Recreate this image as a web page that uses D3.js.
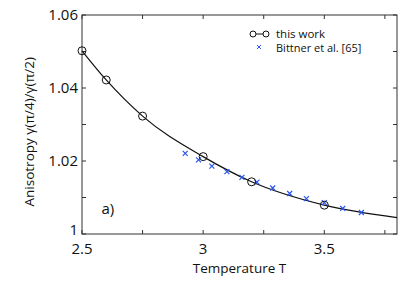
<!DOCTYPE html>
<html>
<head>
<meta charset="utf-8">
<script src="https://cdn.jsdelivr.net/npm/d3@7"></script>
<style>
  body { margin: 0; background: #fff; }
  svg text { font-family: "Open Sans", sans-serif; fill: #111; }
</style>
</head>
<body>
<svg id="chart"></svg>
<script>
// this work: temperature vs anisotropy (circles)
const workT = [2.5, 2.6, 2.75, 3.0, 3.2, 3.5];
const workA = [1.0502, 1.0422, 1.0323, 1.0212, 1.0143, 1.0079];

// smooth fit line through this work
const fitT = [2.5, 2.6, 2.75, 3.0, 3.2, 3.5, 3.8];
const fitA = [1.0502, 1.0422, 1.0323, 1.0212, 1.0143, 1.0079, 1.0045];

// Bittner et al. [65] (crosses)
const bittT = [2.926, 2.981, 3.036, 3.098, 3.160, 3.222, 3.287, 3.357, 3.426, 3.50, 3.576, 3.653];
const bittA = [1.0221, 1.0203, 1.0186, 1.0171, 1.0155, 1.0142, 1.0126, 1.0111, 1.0097, 1.0086, 1.0070, 1.0059];

const xTicks = [2.5, 3, 3.5];
const yTicks = [1, 1.02, 1.04, 1.06];

const W = 407, H = 286;
const margin = { top: 15, right: 10, bottom: 52, left: 82 };
const width = W - margin.left - margin.right;
const height = H - margin.top - margin.bottom;

const svg = d3.select("#chart").attr("width", W).attr("height", H);
const g = svg.append("g").attr("transform", `translate(${margin.left},${margin.top})`);

const x = d3.scaleLinear().domain([2.5, 3.8]).range([0, width]);
const y = d3.scaleLinear().domain([1, 1.06]).range([height, 0]);

// frame
g.append("rect").attr("width", width).attr("height", height)
  .attr("fill", "none").attr("stroke", "#333").attr("stroke-width", 1);

// ticks (inward) on all four sides
const xMinor = d3.range(2.5, 3.81, 0.25);
const yMinor = d3.range(1, 1.0601, 0.01);
xMinor.forEach(t => {
  g.append("line").attr("x1", x(t)).attr("x2", x(t)).attr("y1", height).attr("y2", height - 4).attr("stroke", "#333");
  g.append("line").attr("x1", x(t)).attr("x2", x(t)).attr("y1", 0).attr("y2", 4).attr("stroke", "#333");
});
yMinor.forEach(t => {
  g.append("line").attr("x1", 0).attr("x2", 4).attr("y1", y(t)).attr("y2", y(t)).attr("stroke", "#333");
  g.append("line").attr("x1", width).attr("x2", width - 4).attr("y1", y(t)).attr("y2", y(t)).attr("stroke", "#333");
});

// tick labels
g.selectAll(".xl").data(xTicks).enter().append("text")
  .attr("x", d => x(d)).attr("y", height + 20)
  .attr("text-anchor", "middle").attr("font-size", 15)
  .text(d => d3.format("")(d));
g.selectAll(".yl").data(yTicks).enter().append("text")
  .attr("x", -4).attr("y", d => y(d) + (d === 1 ? 1 : 5))
  .attr("text-anchor", "end").attr("font-size", 15)
  .text(d => d3.format("")(d));

// axis titles
svg.append("text").attr("x", margin.left + x(3.15)).attr("y", 273)
  .attr("text-anchor", "middle").attr("font-size", 13.5).text("Temperature T");
svg.append("text").attr("transform", `translate(34,${margin.top + y(1.028)}) rotate(-90)`)
  .attr("text-anchor", "middle").attr("font-size", 13.5).text("Anisotropy γ(π/4)/γ(π/2)");

// panel label
g.append("text").attr("x", x(2.58)).attr("y", y(1.0055)).attr("font-size", 15).text("a)");

// fit line
const fitData = fitT.map((t, i) => ({ t, a: fitA[i] }));
g.append("path").datum(fitData)
  .attr("fill", "none").attr("stroke", "#111").attr("stroke-width", 1.2)
  .attr("d", d3.line().x(d => x(d.t)).y(d => y(d.a)).curve(d3.curveMonotoneX));

// Bittner crosses
const crossSym = d3.symbol().type(d3.symbolX).size(18);
bittT.forEach((t, i) => {
  g.append("path").attr("d", crossSym)
    .attr("transform", `translate(${x(t)},${y(bittA[i])})`)
    .attr("fill", "none").attr("stroke", "#2a55f0").attr("stroke-width", 1.2);
});

// this work circles
workT.forEach((t, i) => {
  g.append("circle").attr("cx", x(t)).attr("cy", y(workA[i])).attr("r", 4)
    .attr("fill", "none").attr("stroke", "#111").attr("stroke-width", 1);
});

// legend
const lg = svg.append("g");
lg.append("line").attr("x1", 253).attr("x2", 266).attr("y1", 34).attr("y2", 34).attr("stroke", "#111");
lg.append("circle").attr("cx", 253).attr("cy", 34).attr("r", 3).attr("fill", "#fff").attr("stroke", "#111");
lg.append("circle").attr("cx", 266).attr("cy", 34).attr("r", 3).attr("fill", "#fff").attr("stroke", "#111");
lg.append("text").attr("x", 276).attr("y", 37.5).attr("font-size", 11.5).text("this work");
lg.append("path").attr("d", d3.symbol().type(d3.symbolX).size(12))
  .attr("transform", "translate(259,47)").attr("fill", "none").attr("stroke", "#2a55f0").attr("stroke-width", 1);
lg.append("text").attr("x", 276).attr("y", 52).attr("font-size", 11).text("Bittner et al. [65]");
</script>
</body>
</html>
